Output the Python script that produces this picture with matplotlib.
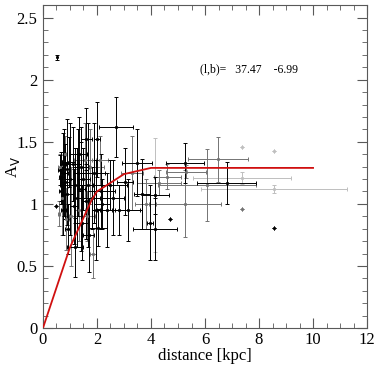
import matplotlib
matplotlib.use('Agg')
import matplotlib.pyplot as plt
from matplotlib.ticker import MultipleLocator

plt.rcParams['font.family'] = ['Liberation Serif', 'DejaVu Serif']

# extinction measurements: distance [kpc], A_V, errors, shade of the bar
dist = [0.52, 0.48,
        0.62, 0.65, 0.68, 0.70, 0.72, 0.74, 0.76, 0.78, 0.80, 0.82, 0.85, 0.88,
        0.90, 0.92, 0.95, 0.66, 0.60,
        1.00, 1.05, 1.10, 1.15, 1.19, 1.20, 1.25, 1.30, 1.32, 1.35, 1.40, 1.42,
        1.45, 1.50, 1.55, 1.58, 1.60, 1.62,
        1.67, 1.70, 1.75, 1.80, 1.85, 1.90, 1.95, 2.00, 2.04, 2.10, 2.15, 2.20,
        2.37, 2.50, 2.69, 2.60, 2.80, 3.04, 3.15, 3.30, 3.48, 3.67, 3.80, 3.96,
        4.15, 4.15, 4.15, 4.30, 4.70, 4.60,
        5.26, 5.30, 5.26, 6.07, 6.48, 6.80, 7.37, 8.56, 7.37, 8.56, 8.56, 7.37]
av = [2.18, 0.98,
      1.27, 1.30, 1.22, 1.15, 1.05, 1.32, 0.95, 1.25, 1.40, 1.18, 0.88, 1.28,
      1.08, 0.80, 1.34, 1.10, 0.92,
      1.20, 0.90, 1.32, 0.98, 0.65, 1.15, 1.05, 1.25, 1.40, 0.95, 1.12, 1.30,
      0.85, 1.20, 1.35, 1.02, 1.52, 0.90,
      1.15, 0.75, 1.30, 1.05, 0.60, 1.25, 0.95, 1.52, 0.81, 1.35, 1.10, 1.00,
      0.95, 1.15, 1.62, 1.05, 0.95, 1.18, 0.95, 1.25, 1.33, 1.08, 1.00, 0.85,
      1.07, 1.07, 0.80, 1.17, 0.88, 1.22,
      1.33, 1.26, 1.00, 1.15, 1.36, 1.17, 1.21, 1.12, 0.96, 0.81, 1.43, 1.46]
dist_err = [0.0, 0.0,
            0.05, 0.08, 0.10, 0.06, 0.05, 0.10, 0.08, 0.15, 0.05, 0.20, 0.10, 0.12,
            0.20, 0.10, 0.25, 0.05, 0.04,
            0.20, 0.10, 0.30, 0.15, 0.30, 0.40, 0.15, 0.20, 0.30, 0.20, 0.15, 0.30,
            0.20, 0.25, 0.40, 0.10, 0.20, 0.30,
            0.20, 0.20, 0.50, 0.30, 0.10, 0.40, 0.15, 0.10, 0.35, 0.30, 0.50, 0.30,
            0.20, 0.60, 0.63, 0.40, 0.80, 0.30, 0.50, 0.40, 0.55, 0.30, 0.40, 0.10,
            0.00, 0.50, 0.80, 0.80, 0.00, 0.50,
            0.72, 0.75, 1.35, 1.80, 1.10, 1.10, 1.80, 2.70, 0.00, 0.00, 0.00, 0.00]
av_err = [0.02, 0.0,
          0.12, 0.10, 0.20, 0.15, 0.30, 0.25, 0.20, 0.35, 0.15, 0.30, 0.25, 0.40,
          0.25, 0.20, 0.20, 0.10, 0.10,
          0.45, 0.40, 0.30, 0.30, 0.24, 0.30, 0.40, 0.35, 0.30, 0.25, 0.50, 0.20,
          0.30, 0.25, 0.30, 0.30, 0.25, 0.20,
          0.50, 0.30, 0.30, 0.25, 0.20, 0.40, 0.40, 0.30, 0.15, 0.20, 0.30, 0.20,
          0.30, 0.20, 0.24, 0.30, 0.20, 0.27, 0.25, 0.30, 0.27, 0.28, 0.20, 0.30,
          0.46, 0.15, 0.25, 0.10, 0.00, 0.10,
          0.16, 0.05, 0.27, 0.29, 0.18, 0.17, 0.05, 0.03, 0.00, 0.00, 0.00, 0.00]
shade = ['k', 'k',
         'k', 'g', 'k', 'k', 'g', 'k', 'k', 'k', 'g', 'k', 'g', 'k',
         'k', 'k', 'k', 'k', 'g',
         'k', 'g', 'k', 'k', 'k', 'k', 'k', 'k', 'k', 'g', 'k', 'k',
         'k', 'k', 'g', 'k', 'k', 'g',
         'k', 'k', 'g', 'k', 'g', 'k', 'k', 'k', 'k', 'g', 'k', 'k',
         'k', 'k', 'k', 'k', 'k', 'k', 'k', 'g', 'k', 'k', 'g', 'k',
         'l', 'k', 'k', 'g', 'k', 'g',
         'k', 'g', 'g', 'g', 'g', 'k', 'l', 'l', 'g', 'k', 'l', 'l']

# extinction model curve
fit_dist = [0.0, 1.0, 1.8, 2.0, 3.0, 4.0, 10.0]
fit_av = [0.0, 0.65, 1.03, 1.10, 1.24, 1.29, 1.29]

colors = {'k': 'black', 'g': '0.45', 'l': '0.75'}

fig = plt.figure(figsize=(3.8, 3.72), dpi=100)
ax = fig.add_axes([0.113, 0.118, 0.853, 0.868])

for s in ['l', 'g', 'k']:
    idx = [i for i in range(len(dist)) if shade[i] == s]
    ax.errorbar([dist[i] for i in idx], [av[i] for i in idx],
                xerr=[dist_err[i] for i in idx], yerr=[av_err[i] for i in idx],
                fmt='s', ms=1.1, color=colors[s], ecolor=colors[s],
                elinewidth=0.7, capsize=1.3, capthick=0.7, zorder=2)

ax.plot(fit_dist, fit_av, color='#d01010', lw=1.3, zorder=3)

ax.text(5.8, 2.08, '(l,b)=   37.47    -6.99', fontsize=8.5, va='center')

ax.set_xlim(0, 12)
ax.set_ylim(0, 2.6)
ax.xaxis.set_major_locator(MultipleLocator(2))
ax.xaxis.set_minor_locator(MultipleLocator(0.5))
ax.yaxis.set_major_locator(MultipleLocator(0.5))
ax.yaxis.set_minor_locator(MultipleLocator(0.1))
ax.xaxis.set_major_formatter(plt.FuncFormatter(lambda v, p: '%g' % v))
ax.yaxis.set_major_formatter(plt.FuncFormatter(lambda v, p: '%g' % v))
ax.tick_params(which='both', direction='in', top=True, right=True,
               color='0.35', labelsize=12)
ax.tick_params(which='major', length=7, pad=4)
ax.tick_params(axis='x', which='major', pad=2.5)
ax.tick_params(which='minor', length=3.5)
for sp in ax.spines.values():
    sp.set_color('0.35')
    sp.set_linewidth(0.8)

ax.set_xlabel('distance [kpc]', fontsize=12, labelpad=0.5)
ax.set_ylabel('A$_\\mathrm{V}$', fontsize=12)
ax.yaxis.set_label_coords(-0.065, 0.5)

fig.savefig('out.png', dpi=100)
